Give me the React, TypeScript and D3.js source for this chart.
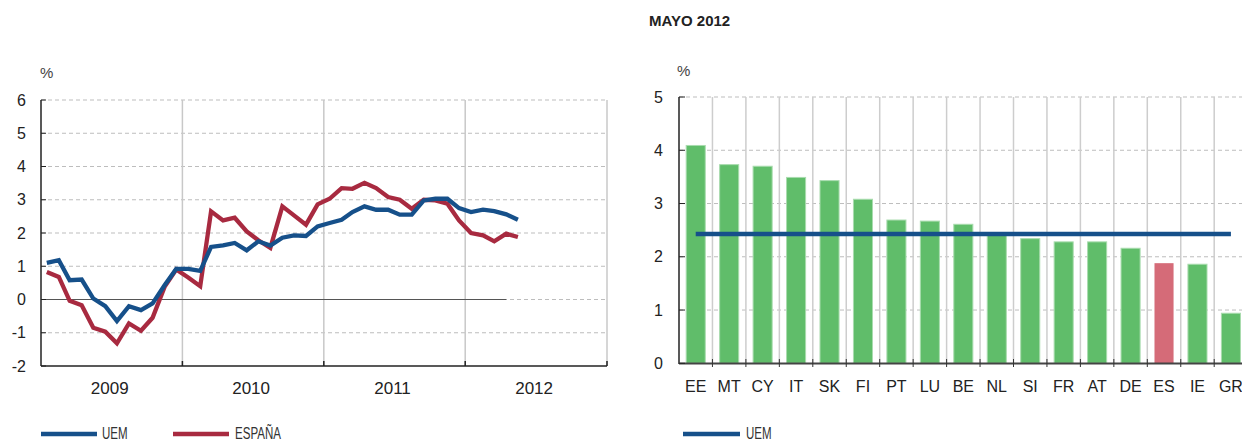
import * as d3 from 'd3';

// Tasa de variación interanual, ene 2009 - may 2012 (mensual)
const uem = [1.1, 1.18, 0.58, 0.6, 0.03, -0.2, -0.65, -0.2, -0.32, -0.12, 0.43, 0.92,
  0.92, 0.86, 1.58, 1.63, 1.7, 1.48, 1.75, 1.62, 1.86, 1.93, 1.91, 2.2,
  2.3, 2.4, 2.63, 2.8, 2.7, 2.7, 2.55, 2.55, 2.98, 3.03, 3.03, 2.75,
  2.63, 2.7, 2.66, 2.56, 2.4];
const espana = [0.83, 0.68, -0.04, -0.17, -0.85, -0.97, -1.32, -0.72, -0.94, -0.55, 0.38, 0.9,
  0.66, 0.4, 2.65, 2.38, 2.46, 2.05, 1.78, 1.55, 2.8, 2.53, 2.25, 2.86,
  3.03, 3.35, 3.33, 3.51, 3.35, 3.08, 3.0, 2.73, 3.0, 2.98, 2.88, 2.38,
  2.0, 1.93, 1.75, 1.98, 1.88];
const years = [2009, 2010, 2011, 2012];
const leftTicks = [-2, -1, 0, 1, 2, 3, 4, 5, 6];

// Mayo 2012 por países
const countries = ['EE', 'MT', 'CY', 'IT', 'SK', 'FI', 'PT', 'LU', 'BE', 'NL', 'SI', 'FR', 'AT', 'DE', 'ES', 'IE', 'GR'];
const mayValues = [4.09, 3.73, 3.7, 3.49, 3.43, 3.08, 2.69, 2.67, 2.61, 2.45, 2.34, 2.28, 2.28, 2.16, 1.88, 1.86, 0.94];
const uemMay = 2.43;
const rightTicks = [0, 1, 2, 3, 4, 5];

const BLUE = '#16508a';
const RED = '#a82a40';
const GREEN = '#60bd6a';
const PINK = '#d56b78';
const GRID = '#bdbdbd';
const FONT = '"Liberation Sans", Arial, Helvetica, sans-serif';

// condensed legend label (no narrow font available, so squeeze horizontally)
const LegendText = ({ x, label }: { x: number; label: string }) => (
  <text transform={`translate(${x},439) scale(0.7,1)`} fontSize={16.5} fill="#333">{label}</text>
);

export default function App() {
  // left chart scales
  const monthDate = (i: number) => new Date(Date.UTC(2009, i, 16));
  const x = d3.scaleUtc([new Date(Date.UTC(2009, 0, 1)), new Date(Date.UTC(2013, 0, 1))], [41, 607]);
  const y = d3.scaleLinear([-2, 6], [366, 100]);
  const line = d3.line<number>()
    .x((_, i) => x(monthDate(i)))
    .y(d => y(d));
  const yearStart = (yr: number) => x(new Date(Date.UTC(yr, 0, 1)));

  // right chart scales
  const step = 33.45;
  const xb = d3.scaleBand(countries, [679, 679 + step * countries.length])
    .paddingInner(0.43)
    .paddingOuter(0.215);
  const yb = d3.scaleLinear([0, 5], [363.3, 97]);
  const bw = xb.bandwidth();
  const sepX = (c: string) => (xb(c) as number) + bw + step * 0.215;

  return (
    <svg width={1242} height={441} style={{ position: 'absolute', left: 0, top: 0 }} fontFamily={FONT}>
      {/* ---------- left chart ---------- */}
      <text x={40} y={78} fontSize={15} fill="#444">%</text>
      {leftTicks.filter(t => t > -2).map(t => (
        <line key={'g' + t} x1={41} x2={607} y1={y(t)} y2={y(t)}
          stroke={GRID} strokeDasharray="4,3" strokeWidth={1} />
      ))}
      {years.map(yr => (
        <line key={'v' + yr} x1={yearStart(yr + 1)} x2={yearStart(yr + 1)} y1={100} y2={366}
          stroke="#c8c8c8" strokeWidth={1.5} />
      ))}
      <line x1={41} x2={x(monthDate(39))} y1={y(0)} y2={y(0)} stroke="#555" strokeWidth={1} />
      <line x1={41} x2={41} y1={100} y2={366} stroke="#222" strokeWidth={1.5} />
      <line x1={41} x2={607} y1={366} y2={366} stroke="#222" strokeWidth={1.5} />
      {leftTicks.map(t => (
        <g key={'t' + t}>
          <line x1={41} x2={46} y1={y(t)} y2={y(t)} stroke="#222" strokeWidth={1} />
          <text x={26} y={y(t) + 5.5} textAnchor="end" fontSize={16} fill="#222">{t}</text>
        </g>
      ))}
      {years.map(yr => (
        <g key={'y' + yr}>
          <line x1={yearStart(yr + 1)} x2={yearStart(yr + 1)} y1={361} y2={366} stroke="#222" strokeWidth={1.5} />
          <text x={(yearStart(yr) + yearStart(yr + 1)) / 2 - 2} y={394} textAnchor="middle" fontSize={17} fill="#222">{yr}</text>
        </g>
      ))}
      <path d={line(espana) ?? ''} fill="none" stroke={RED} strokeWidth={4.3} strokeLinejoin="miter" />
      <path d={line(uem) ?? ''} fill="none" stroke={BLUE} strokeWidth={4.3} strokeLinejoin="miter" />

      {/* left legend */}
      <line x1={41} x2={97} y1={434} y2={434} stroke={BLUE} strokeWidth={4.5} />
      <LegendText x={102} label="UEM" />
      <line x1={173} x2={229} y1={434} y2={434} stroke={RED} strokeWidth={4.5} />
      <LegendText x={235} label="ESPAÑA" />

      {/* ---------- right chart ---------- */}
      <text x={649} y={26} fontSize={15} fontWeight="bold" fill="#222">MAYO 2012</text>
      <text x={677} y={76} fontSize={15} fill="#444">%</text>
      {rightTicks.filter(t => t > 0).map(t => (
        <line key={'rg' + t} x1={679} x2={1242} y1={yb(t)} y2={yb(t)}
          stroke={GRID} strokeDasharray="4,3" strokeWidth={1} />
      ))}
      {countries.map(c => (
        <line key={'s' + c} x1={sepX(c)} x2={sepX(c)} y1={97} y2={363}
          stroke="#cdcdcd" strokeWidth={1.5} />
      ))}
      {countries.map((c, i) => (
        <rect key={'b' + c} x={xb(c)} y={yb(mayValues[i])} width={bw} height={yb(0) - yb(mayValues[i])}
          fill={c === 'ES' ? PINK : GREEN}
          stroke={c === 'ES' ? 'none' : '#a9dcae'} strokeWidth={1} />
      ))}
      <line x1={679} x2={679} y1={97} y2={364} stroke="#222" strokeWidth={1.5} />
      <line x1={679} x2={1242} y1={363.6} y2={363.6} stroke="#444" strokeWidth={2} />
      {rightTicks.map(t => (
        <g key={'rt' + t}>
          <line x1={679} x2={685} y1={yb(t)} y2={yb(t)} stroke="#222" strokeWidth={1} />
          <text x={663} y={yb(t) + 5.5} textAnchor="end" fontSize={16} fill="#222">{t}</text>
        </g>
      ))}
      {countries.map(c => (
        <g key={'c' + c}>
          <line x1={sepX(c)} x2={sepX(c)} y1={359} y2={367} stroke="#333" strokeWidth={1} />
          <text x={(xb(c) as number) + bw / 2} y={392} textAnchor="middle" fontSize={16} fill="#222">{c}</text>
        </g>
      ))}
      <line
        x1={(xb(countries[0]) as number) + bw / 2}
        x2={(xb(countries[countries.length - 1]) as number) + bw / 2}
        y1={yb(uemMay)} y2={yb(uemMay)}
        stroke={BLUE} strokeWidth={4.5} />

      {/* right legend */}
      <line x1={683} x2={740} y1={434} y2={434} stroke={BLUE} strokeWidth={4.5} />
      <LegendText x={746} label="UEM" />
    </svg>
  );
}
